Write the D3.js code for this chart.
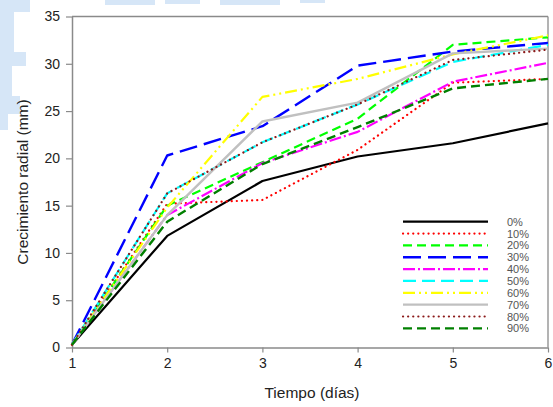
<!DOCTYPE html>
<html>
<head>
<meta charset="utf-8">
<script src="https://cdn.jsdelivr.net/npm/d3@7"></script>
<style>
  html, body { margin: 0; padding: 0; background: #fff; }
  svg { display: block; }
  text { font-family: "Liberation Sans", Arial, sans-serif; }
</style>
</head>
<body>
<svg id="chart" width="553" height="407"></svg>
<script>
const days = [1, 2, 3, 4, 5, 6];
const seriesNames = ["0%", "10%", "20%", "30%", "40%", "50%", "60%", "70%", "80%", "90%"];
const s0  = [0.3, 11.8, 17.6, 20.2, 21.6, 23.7];
const s10 = [0.3, 15.2, 15.6, 20.9, 28.0, 28.4];
const s20 = [0.3, 15.0, 19.6, 24.2, 32.0, 32.8];
const s30 = [0.3, 20.3, 23.4, 29.8, 31.3, 32.2];
const s40 = [0.3, 14.0, 19.5, 22.8, 28.1, 30.1];
const s50 = [0.3, 16.3, 21.7, 25.7, 30.2, 32.0];
const s60 = [0.3, 14.8, 26.5, 28.4, 31.0, 33.0];
const s70 = [0.3, 14.0, 23.9, 25.9, 31.1, 31.6];
const s80 = [0.3, 16.3, 21.7, 25.7, 30.4, 31.5];
const s90 = [0.3, 13.3, 19.4, 23.3, 27.4, 28.4];
const xTicks = [1, 2, 3, 4, 5, 6];
const yTicks = [0, 5, 10, 15, 20, 25, 30, 35];

const allSeries = [s0, s10, s20, s30, s40, s50, s60, s70, s80, s90];
const styles = [
  { color: "#000000", dash: null, width: 2.2, cap: "butt" },
  { color: "#ff0000", dash: "0.1,5", width: 2.2, cap: "round" },
  { color: "#00ff00", dash: "9,5", width: 2.2, cap: "butt" },
  { color: "#0000ff", dash: "18,7", width: 2.4, cap: "butt" },
  { color: "#ff00ff", dash: "12,3,2,3", width: 2.2, cap: "butt" },
  { color: "#00ffff", dash: "13,6", width: 2.2, cap: "butt" },
  { color: "#ffff00", dash: "12,4,2,4,2,4", width: 2.2, cap: "butt" },
  { color: "#c0c0c0", dash: null, width: 2.4, cap: "butt" },
  { color: "#8b1a1a", dash: "0.1,5", width: 2.2, cap: "round" },
  { color: "#008000", dash: "9,5", width: 2.4, cap: "butt" }
];

const svg = d3.select("#chart");

// faint background blocks from the scanned page
const bg = svg.append("g").attr("fill", "#d6e6f7");
[[0,0,30,12],[0,12,14,40],[0,52,26,14],[0,66,12,30],[0,96,20,18],[0,114,8,16],
 [105,0,50,5],[165,0,35,4],[220,0,60,5],[300,0,25,3]].forEach(r => {
  bg.append("rect").attr("x", r[0]).attr("y", r[1]).attr("width", r[2]).attr("height", r[3]);
});

const x = d3.scaleLinear().domain([1, 6]).range([72, 548]);
const y = d3.scaleLinear().domain([0, 35]).range([347.5, 16.5]);

const axisColor = "#8a8a8a";

// frame top and right
svg.append("line").attr("x1", x(1)).attr("x2", x(6)).attr("y1", y(35)).attr("y2", y(35))
  .attr("stroke", axisColor).attr("stroke-width", 1.3);
svg.append("line").attr("x1", x(6)).attr("x2", x(6)).attr("y1", y(35)).attr("y2", y(0))
  .attr("stroke", axisColor).attr("stroke-width", 1.3);

const xAxis = svg.append("g").attr("transform", `translate(0,${y(0)})`)
  .call(d3.axisBottom(x).tickValues(xTicks).tickFormat(d3.format("d")).tickSize(5).tickSizeOuter(0).tickPadding(6));
const yAxis = svg.append("g").attr("transform", `translate(${x(1)},0)`)
  .call(d3.axisLeft(y).tickValues(yTicks).tickFormat(d3.format("d")).tickSize(6).tickSizeOuter(0).tickPadding(6));

[xAxis, yAxis].forEach(a => {
  a.select(".domain").attr("stroke", axisColor).attr("stroke-width", 1.5);
  a.selectAll(".tick line").attr("stroke", axisColor).attr("stroke-width", 1.2);
  a.selectAll(".tick text").attr("fill", "#222").style("font-size", "14px")
    .style("font-family", '"Liberation Sans", Arial, sans-serif');
});

// lines
const line = d3.line().x((d, i) => x(days[i])).y(d => y(d));
const linesG = svg.append("g");
allSeries.forEach((s, i) => {
  const st = styles[i];
  linesG.append("path").datum(s).attr("d", line)
    .attr("fill", "none").attr("stroke", st.color).attr("stroke-width", st.width)
    .attr("stroke-dasharray", st.dash).attr("stroke-linecap", st.cap)
    .attr("stroke-linejoin", "round");
});

// legend
const legY0 = 221.7, legStep = 11.85;
const leg = svg.append("g");
seriesNames.forEach((name, i) => {
  const st = styles[i];
  const yy = legY0 + i * legStep;
  leg.append("line").attr("x1", 403).attr("x2", 488).attr("y1", yy).attr("y2", yy)
    .attr("stroke", st.color).attr("stroke-width", st.width)
    .attr("stroke-dasharray", st.dash).attr("stroke-linecap", st.cap);
  leg.append("text").attr("x", 507).attr("y", yy + 4).text(name)
    .attr("fill", "#555").style("font-size", "11px");
});

// axis titles
svg.append("text").attr("x", 312).attr("y", 398).attr("text-anchor", "middle")
  .attr("fill", "#222").style("font-size", "15.5px").text("Tiempo (días)");
svg.append("text").attr("transform", `translate(28,${y(17.5)}) rotate(-90)`)
  .attr("text-anchor", "middle").attr("fill", "#222").style("font-size", "15.5px")
  .text("Crecimiento radial (mm)");
</script>
</body>
</html>
